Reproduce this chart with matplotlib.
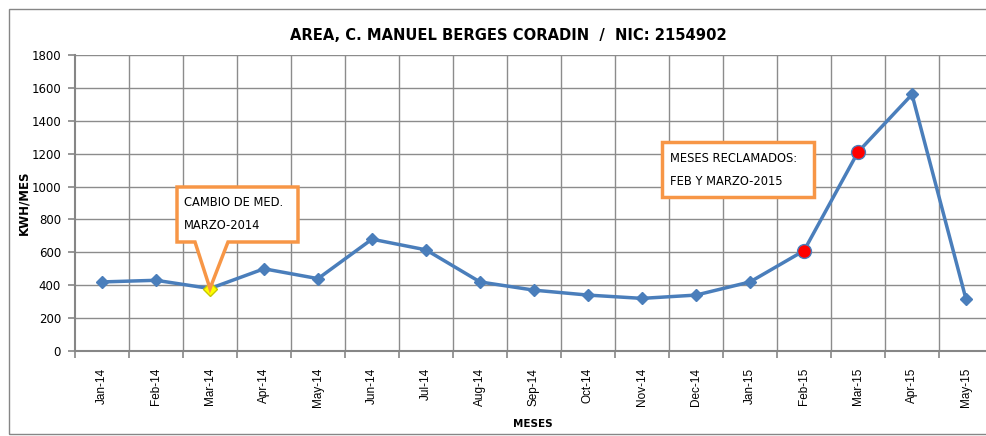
import matplotlib
matplotlib.use("Agg")
import matplotlib.pyplot as plt
from matplotlib.patches import Polygon, Rectangle

months = ["Jan-14", "Feb-14", "Mar-14", "Apr-14", "May-14", "Jun-14", "Jul-14", "Aug-14",
          "Sep-14", "Oct-14", "Nov-14", "Dec-14", "Jan-15", "Feb-15", "Mar-15", "Apr-15", "May-15"]
kwh = [420, 430, 380, 500, 440, 680, 615, 420, 370, 340, 320, 340, 420, 610, 1210, 1560, 315]
yticks = [0, 200, 400, 600, 800, 1000, 1200, 1400, 1600, 1800]
changed_idx = [2]          # Mar-14 : meter change
claimed_idx = [13, 14]     # Feb-15, Mar-15 : claimed months

title = "AREA, C. MANUEL BERGES CORADIN  /  NIC: 2154902"
note1 = "CAMBIO DE MED.\nMARZO-2014"
note2 = "MESES RECLAMADOS:\nFEB Y MARZO-2015"

W, H = 987, 436
NARROW = ["DejaVu Sans"]

fig = plt.figure(figsize=(W / 100, H / 100), dpi=100)

def fx(px):
    return px / W

def fy(py):
    return 1 - py / H

# outer chart border
fig.patches.append(Rectangle((fx(9), fy(434)), fx(1200), fy(9) - fy(434), transform=fig.transFigure,
                             fill=False, edgecolor="#868686", linewidth=1.0))

ax = fig.add_axes([fx(75), fy(351), fx(993) - fx(75), fy(55) - fy(351)])
x = list(range(len(months)))
ax.set_xlim(-0.5, len(months) - 0.5)
ax.set_ylim(0, 1800)

# grid
for b in [i - 0.5 for i in range(1, len(months))]:
    ax.axvline(b, color="#8c8c8c", linewidth=1.0, zorder=0)
for yv in yticks[1:]:
    ax.axhline(yv, color="#8c8c8c", linewidth=1.0, zorder=0)

for s in ["top", "right"]:
    ax.spines[s].set_visible(False)
for s in ["left", "bottom"]:
    ax.spines[s].set_color("#868686")
    ax.spines[s].set_linewidth(1.5)

ax.set_yticks(yticks)
ax.set_yticklabels([str(v) for v in yticks], fontsize=8.5, family=NARROW)
ax.set_xticks(x)
ax.set_xticklabels(months, rotation=90, fontsize=8.5, family=["Liberation Sans", "DejaVu Sans"])
ax.tick_params(axis="x", length=0, pad=12)
ax.set_xticks([i - 0.5 for i in range(len(months) + 1)], minor=True)
ax.tick_params(axis="x", which="minor", length=5, color="#868686", width=1.2)
ax.tick_params(axis="y", length=5, color="#868686", width=1.2, pad=5)

blue = "#4A7EBB"
ax.plot(x, kwh, color=blue, linewidth=2.5, marker="D", markersize=6, zorder=3)
ax.plot([x[i] for i in changed_idx], [kwh[i] for i in changed_idx], linestyle="none",
        marker="D", markersize=7, markerfacecolor="#FFFF00", markeredgecolor="#C8C800", zorder=4)
ax.plot([x[i] for i in claimed_idx], [kwh[i] for i in claimed_idx], linestyle="none",
        marker="o", markersize=10, markerfacecolor="#FF0000", markeredgecolor=blue,
        markeredgewidth=1.0, zorder=4)

orange = "#F79646"
# callout 1 with pointer
tip = fig.transFigure.inverted().transform(ax.transData.transform((x[changed_idx[0]], kwh[changed_idx[0]])))
poly = [(fx(177), fy(187)), (fx(298), fy(187)), (fx(298), fy(242)), (fx(228), fy(242)),
        (tip[0], tip[1]), (fx(195), fy(242)), (fx(177), fy(242))]
fig.patches.append(Polygon(poly, closed=True, transform=fig.transFigure, facecolor="white",
                           edgecolor=orange, linewidth=2.5, zorder=10))
fig.text(fx(184), fy(214), note1, fontsize=8.3, family=NARROW, va="center", ha="left",
         linespacing=1.95, zorder=11)

# callout 2
fig.patches.append(Rectangle((fx(662), fy(197)), fx(814) - fx(662), fy(142) - fy(197),
                             transform=fig.transFigure, facecolor="white", edgecolor=orange,
                             linewidth=2.5, zorder=10))
fig.text(fx(670), fy(170), note2, fontsize=8.3, family=NARROW, va="center", ha="left",
         linespacing=1.95, zorder=11)

fig.text(fx(508), fy(35), title, fontsize=10.6, fontweight="bold", family=NARROW,
         ha="center", va="center")
fig.text(fx(24), fy(203), "KWH/MES", fontsize=8.5, fontweight="bold", rotation=90,
         family=NARROW, ha="center", va="center")
fig.text(fx(533), fy(424), "MESES", fontsize=7.5, fontweight="bold", family=NARROW,
         ha="center", va="center")

fig.savefig("out.png", dpi=100)
